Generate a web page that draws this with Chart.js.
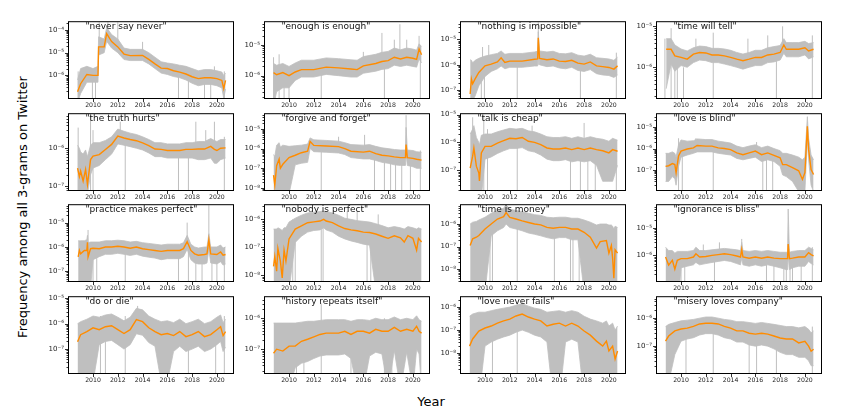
<!DOCTYPE html>
<html><head><meta charset="utf-8">
<script src="https://cdn.jsdelivr.net/npm/chart.js@4"></script>
<style>
html,body{margin:0;padding:0;background:#fff;}
#fig{position:relative;width:864px;height:414px;overflow:hidden;background:#fff;}
#fig canvas{position:absolute;}
.lab{position:absolute;font-family:"DejaVu Sans";font-size:13px;color:#000;white-space:nowrap;line-height:1;}
</style></head><body>
<div id="fig">
<div class="lab" style="left:431px;top:401px;transform:translate(-50%,-50%)">Year</div>
<div class="lab" style="left:22px;top:207px;transform:translate(-50%,-50%) rotate(-90deg)">Frequency among all 3-grams on Twitter</div>
</div>
<script>
// ---------------- DATA ----------------
const titles = ['"never say never"','"enough is enough"','"nothing is impossible"','"time will tell"',
 '"the truth hurts"','"forgive and forget"','"talk is cheap"','"love is blind"',
 '"practice makes perfect"','"nobody is perfect"','"time is money"','"ignorance is bliss"',
 '"do or die"','"history repeats itself"','"love never fails"','"misery loves company"'];
const xTickYears = [2010, 2012, 2014, 2016, 2018, 2020];
const yMins = [1.01e-7, 1.86e-7, 5e-8, 1.78e-7, 7.9e-8, 7.9e-9, 1.95e-8, 1.2e-8, 4e-8, 6.3e-9, 3e-9, 1.15e-7, 1.15e-8, 1.7e-8, 1.35e-9, 1.1e-8];
const yMaxs = [2.2e-4, 5.6e-5, 4.7e-5, 1.26e-5, 7.9e-6, 5.6e-5, 1.03e-5, 3.9e-5, 5.2e-5, 3.2e-6, 6.8e-6, 6.9e-5, 1.1e-5, 4.8e-6, 2.7e-6, 5.6e-6];

// 1 never say never
const years1 = [2008.75, 2009.0, 2009.5, 2010.0, 2010.4, 2010.45, 2010.9, 2011.1, 2011.5, 2012.0, 2012.5, 2013.0, 2014.0, 2014.5, 2015.0, 2015.5, 2016.0, 2016.5, 2017.0, 2017.5, 2018.0, 2018.5, 2019.0, 2019.5, 2020.0, 2020.4, 2020.55, 2020.7];
const smooth1 = [1.9e-7, 4.3e-7, 1.1e-6, 1e-6, 1e-6, 1.8e-5, 1.8e-5, 6.9e-5, 3.1e-5, 1.8e-5, 8.7e-6, 7.4e-6, 7.6e-6, 5.1e-6, 3.2e-6, 2.1e-6, 2e-6, 1.6e-6, 1.4e-6, 1.15e-6, 8.7e-7, 7.2e-7, 7.9e-7, 7.9e-7, 7.2e-7, 6e-7, 2.6e-7, 6e-7];
const upper1 = [6.3e-7, 2e-6, 2.5e-6, 2e-6, 2.5e-6, 5e-5, 4e-5, 1.26e-4, 6.3e-5, 4e-5, 1.6e-5, 1.4e-5, 1.4e-5, 1e-5, 6.3e-6, 4e-6, 3.5e-6, 3.2e-6, 2.8e-6, 2.5e-6, 2e-6, 1.6e-6, 1.8e-6, 1.8e-6, 1.6e-6, 1.4e-6, 1e-6, 1.26e-6];
const lower1 = [6.3e-8, 1.6e-7, 5e-7, 5e-7, 5e-7, 7.9e-6, 1e-5, 3.2e-5, 1.6e-5, 1e-5, 5e-6, 4.5e-6, 4.5e-6, 3.2e-6, 2e-6, 1.26e-6, 1.1e-6, 8.9e-7, 7.9e-7, 6.3e-7, 4.5e-7, 3.5e-7, 4e-7, 4e-7, 3.5e-7, 2.8e-7, 1e-7, 2.5e-7];
const spikes1 = [[2008.8,1e-9,1.5e-6],[2009.95,1e-9,1e-6],[2010.2,1e-9,1e-6],[2010.5,1e-5,1e-3],[2011.2,3e-5,1e-3],[2012.0,2e-5,1e-3],[2014.0,7e-6,3e-5],[2016.9,1e-9,1.5e-6],[2017.7,1e-9,1.2e-6],[2019.0,1e-9,8e-7],[2019.5,1e-9,8e-7],[2019.8,7e-7,2.5e-6],[2020.6,1e-9,1.5e-6]];

// 2 enough is enough
const years2 = [2008.75, 2009, 2009.5, 2010, 2010.5, 2011, 2012, 2013, 2014, 2015, 2015.5, 2016, 2017, 2017.5, 2018, 2018.5, 2019, 2019.5, 2020, 2020.3, 2020.5, 2020.7];
const smooth2 = [1.26e-6, 1.07e-6, 1.26e-6, 1e-6, 1.32e-6, 1.58e-6, 1.58e-6, 1.9e-6, 1.8e-6, 1.66e-6, 1.58e-6, 2.1e-6, 2.5e-6, 2.9e-6, 3.1e-6, 4e-6, 3.5e-6, 4e-6, 3.7e-6, 3.4e-6, 7.4e-6, 4.8e-6];
const upper2 = [2.5e-6, 2.2e-6, 2.5e-6, 2e-6, 2.6e-6, 3.2e-6, 3.2e-6, 3.8e-6, 3.6e-6, 3.3e-6, 3.2e-6, 4.2e-6, 5e-6, 5.8e-6, 6.2e-6, 8e-6, 7e-6, 8e-6, 7.4e-6, 6.8e-6, 1.1e-5, 9e-6];
const lower2 = [1e-7, 3e-7, 4e-7, 4e-7, 7e-7, 9e-7, 9e-7, 1.1e-6, 1e-6, 9e-7, 9e-7, 1.2e-6, 1.4e-6, 1.6e-6, 1.7e-6, 2.2e-6, 2e-6, 2.2e-6, 2e-6, 1.9e-6, 3.5e-6, 2.6e-6];
const spikes2 = [[2008.75,1e-9,4e-6],[2009.2,1e-9,5e-6],[2009.6,1e-9,2e-6],[2010.0,1e-9,1.5e-6],[2012.6,1e-9,2e-6],[2016.0,1.5e-6,6e-6],[2017.5,3e-6,2.5e-5],[2017.7,1e-9,3e-6],[2018.5,3e-6,1.5e-5],[2018.95,4e-6,4.8e-5],[2019.5,4e-6,1.5e-5],[2020.5,5e-6,2e-5],[2020.6,1e-9,8e-6]];

// 3 nothing is impossible
const years3 = [2008.8, 2008.9, 2009.0, 2009.2, 2009.5, 2010, 2010.5, 2011, 2011.3, 2011.6, 2012, 2013, 2014, 2014.25, 2014.3, 2014.4, 2015, 2015.5, 2016, 2016.5, 2017, 2017.5, 2018, 2018.5, 2019, 2019.5, 2020, 2020.4, 2020.7];
const smooth3 = [7.2e-8, 2.8e-7, 1.8e-7, 2.8e-7, 5e-7, 9.1e-7, 1.07e-6, 1.3e-6, 1.9e-6, 1.23e-6, 1.4e-6, 1.4e-6, 1.66e-6, 1.7e-6, 1.15e-5, 1.8e-6, 1.58e-6, 1.7e-6, 1.4e-6, 1.35e-6, 1.5e-6, 1.17e-6, 1.07e-6, 1.3e-6, 9.1e-7, 8.5e-7, 7.9e-7, 6.8e-7, 9.1e-7];
const upper3 = [1.6e-6, 1.5e-6, 1.2e-6, 1.5e-6, 1.8e-6, 2.2e-6, 2.5e-6, 2.8e-6, 3.5e-6, 2.6e-6, 2.8e-6, 2.8e-6, 3.2e-6, 3.4e-6, 2e-5, 3.5e-6, 3.2e-6, 3.4e-6, 2.8e-6, 2.7e-6, 3e-6, 2.4e-6, 2.2e-6, 2.6e-6, 1.9e-6, 1.8e-6, 1.7e-6, 1.5e-6, 2e-6];
const lower3 = [4e-8, 4e-8, 4e-8, 6e-8, 1.5e-7, 3.5e-7, 5.5e-7, 7e-7, 9e-7, 7e-7, 8e-7, 8e-7, 9e-7, 9e-7, 5e-6, 1e-6, 8.5e-7, 9e-7, 7.5e-7, 7e-7, 8e-7, 6e-7, 5.5e-7, 6.5e-7, 4.5e-7, 4e-7, 3.8e-7, 3.2e-7, 4e-7];
const spikes3 = [[2009.7,1e-9,2e-6],[2009.95,1e-9,1.5e-6],[2009.8,5e-7,5e-6],[2010.3,1e-6,6e-6],[2012.6,1e-9,2e-6],[2014.3,1e-6,5e-5],[2017.7,1e-9,2e-6],[2020.6,1e-9,3e-6]];

// 4 time will tell
const years4 = [2008.8, 2009.2, 2009.5, 2010, 2010.5, 2011, 2011.5, 2012, 2012.5, 2013, 2013.5, 2014, 2014.5, 2015, 2015.5, 2016, 2016.5, 2017, 2017.5, 2018, 2018.3, 2018.5, 2019, 2019.5, 2020, 2020.3, 2020.7];
const smooth4 = [2.75e-6, 2.75e-6, 1.9e-6, 1.74e-6, 1.58e-6, 2.1e-6, 2.3e-6, 2.24e-6, 2e-6, 2e-6, 1.9e-6, 1.74e-6, 1.58e-6, 1.45e-6, 1.58e-6, 1.74e-6, 1.74e-6, 2e-6, 2.1e-6, 2.3e-6, 3.5e-6, 2.75e-6, 2.75e-6, 2.75e-6, 3e-6, 2.5e-6, 2.75e-6];
const upper4 = [5e-6, 5e-6, 3.5e-6, 2.8e-6, 2.5e-6, 3e-6, 3.3e-6, 3.2e-6, 2.9e-6, 2.9e-6, 2.8e-6, 2.6e-6, 2.3e-6, 2.1e-6, 2.3e-6, 2.6e-6, 2.6e-6, 3e-6, 3.2e-6, 3.4e-6, 5e-6, 4e-6, 4e-6, 4e-6, 4.3e-6, 3.8e-6, 4e-6];
const lower4 = [3e-7, 1.2e-6, 8e-7, 1.1e-6, 1e-6, 1.3e-6, 1.5e-6, 1.45e-6, 1.3e-6, 1.3e-6, 1.2e-6, 1.1e-6, 1e-6, 9e-7, 1e-6, 1.1e-6, 1.1e-6, 1.3e-6, 1.35e-6, 1.5e-6, 2.2e-6, 1.8e-6, 1.8e-6, 1.8e-6, 2e-6, 1.6e-6, 1.8e-6];
const spikes4 = [[2008.7,1e-9,5e-6],[2009.2,1e-9,9e-6],[2009.5,1e-9,1e-6],[2009.7,1e-9,1e-6],[2010.2,1e-9,1e-6],[2011.2,1.5e-6,5e-6],[2012.6,1e-9,7e-6],[2015.4,1.5e-6,5e-6],[2017.0,1.5e-6,6e-6],[2017.7,1e-9,2e-6],[2018.2,2e-6,1e-5],[2020.6,1e-9,6e-6]];

// 5 the truth hurts
const years5 = [2008.75, 2008.9, 2009.0, 2009.2, 2009.4, 2009.55, 2009.8, 2010, 2010.5, 2011, 2011.5, 2012, 2012.5, 2013, 2013.5, 2014, 2014.5, 2015, 2015.5, 2016, 2017, 2017.5, 2018, 2018.5, 2019, 2019.5, 2019.8, 2020, 2020.3, 2020.7];
const smooth5 = [3e-7, 1.8e-7, 2.5e-7, 1.35e-7, 2.75e-7, 1.1e-7, 5e-7, 6.2e-7, 6.8e-7, 9.3e-7, 1.26e-6, 2.1e-6, 1.86e-6, 1.7e-6, 1.58e-6, 1.38e-6, 1.17e-6, 9.5e-7, 9.3e-7, 8.7e-7, 8.7e-7, 9.3e-7, 9.3e-7, 9.5e-7, 9.5e-7, 1.12e-6, 9.3e-7, 8.7e-7, 1e-6, 1.02e-6];
const upper5 = [1.2e-6, 1e-6, 8e-7, 7e-7, 9e-7, 6e-7, 1.2e-6, 1.4e-6, 1.4e-6, 1.6e-6, 2e-6, 3.2e-6, 2.8e-6, 2.5e-6, 2.3e-6, 2e-6, 1.7e-6, 1.4e-6, 1.4e-6, 1.3e-6, 1.3e-6, 1.4e-6, 1.4e-6, 1.5e-6, 1.5e-6, 1.8e-6, 1.6e-6, 1.5e-6, 1.7e-6, 1.7e-6];
const lower5 = [7e-8, 6e-8, 6e-8, 6e-8, 7e-8, 6e-8, 2e-7, 3e-7, 3.5e-7, 5e-7, 7e-7, 1.3e-6, 1.2e-6, 1.1e-6, 1e-6, 9e-7, 7.5e-7, 6e-7, 6e-7, 5.5e-7, 5.5e-7, 5.5e-7, 5.5e-7, 5e-7, 5e-7, 5.5e-7, 4e-7, 4e-7, 5e-7, 5.5e-7];
const spikes5 = [[2008.8,1e-9,3.5e-6],[2009.8,1e-9,1e-5],[2010.0,1e-9,3e-6],[2012.2,2e-6,5e-6],[2012.6,1e-9,2e-6],[2016.9,1e-9,1.2e-6],[2017.7,1e-9,1.2e-6],[2018.3,8e-7,5e-6],[2019.1,7e-7,3e-6],[2019.8,6e-7,5e-6],[2020.6,1e-9,2e-6]];

// 6 forgive and forget
const years6 = [2008.75, 2008.85, 2009.0, 2009.2, 2009.3, 2009.5, 2010, 2010.5, 2011, 2011.5, 2011.7, 2012, 2013, 2014, 2014.5, 2015, 2016, 2016.5, 2017, 2017.5, 2018, 2018.5, 2019, 2019.4, 2019.45, 2019.55, 2020, 2020.3, 2020.7];
const smooth6 = [4.5e-8, 1.4e-8, 1.35e-7, 2.9e-7, 1e-7, 1.6e-7, 3.5e-7, 4.6e-7, 6.2e-7, 7.4e-7, 2.3e-6, 1.45e-6, 1.35e-6, 1.26e-6, 1e-6, 7.4e-7, 6.6e-7, 7.4e-7, 5.6e-7, 4.6e-7, 4.3e-7, 3.8e-7, 3.5e-7, 3.5e-7, 1.6e-6, 3.5e-7, 3.2e-7, 2.9e-7, 2.6e-7];
const upper6 = [5e-7, 4e-7, 1.5e-6, 2e-6, 1.2e-6, 1.5e-6, 1.3e-6, 1.4e-6, 1.5e-6, 1.7e-6, 3.5e-6, 2.8e-6, 2.6e-6, 2.4e-6, 2e-6, 1.6e-6, 1.5e-6, 1.6e-6, 1.3e-6, 1.1e-6, 1e-6, 9e-7, 8.5e-7, 8.5e-7, 1.2e-5, 8.5e-7, 8e-7, 7e-7, 6.5e-7];
const lower6 = [5e-9, 5e-9, 5e-9, 5e-9, 5e-9, 5e-9, 5e-9, 1.5e-7, 1.8e-7, 2e-7, 1e-6, 7e-7, 6.5e-7, 6e-7, 5e-7, 3.5e-7, 3e-7, 3e-7, 2.5e-7, 2e-7, 1.8e-7, 1.5e-7, 1.4e-7, 1.4e-7, 6e-7, 1.4e-7, 1.2e-7, 1e-7, 1e-7];
const spikes6 = [[2012.6,1e-9,2e-6],[2014.0,8e-7,4e-6],[2016.1,5e-7,5e-6],[2016.9,1e-9,1e-6],[2017.7,1e-9,8e-7],[2018.2,1e-9,7e-7],[2018.6,1e-9,6e-7],[2019.1,1e-9,6e-7],[2019.45,3e-7,5e-5],[2019.8,1e-9,6e-7],[2020.6,1e-9,8e-7]];

// 7 talk is cheap
const years7 = [2008.8, 2009.0, 2009.1, 2009.3, 2009.5, 2009.55, 2009.7, 2010, 2010.5, 2011, 2011.5, 2012, 2012.5, 2013, 2013.5, 2014, 2014.5, 2015, 2015.5, 2016, 2016.5, 2017, 2017.5, 2018, 2018.5, 2019, 2019.5, 2020, 2020.3, 2020.7];
const smooth7 = [1.2e-7, 3.2e-7, 6.3e-7, 1.4e-7, 7.9e-8, 4.1e-8, 4.2e-7, 7.2e-7, 7.2e-7, 9.5e-7, 1.15e-6, 1.4e-6, 1.35e-6, 1.5e-6, 1.1e-6, 1e-6, 8.3e-7, 6.3e-7, 5.8e-7, 5.8e-7, 6.3e-7, 5.5e-7, 6.3e-7, 5.5e-7, 6.3e-7, 5.5e-7, 5e-7, 4.2e-7, 5.5e-7, 4.8e-7];
const upper7 = [2e-6, 3e-6, 4e-6, 1.5e-6, 1e-6, 8e-7, 1.8e-6, 2e-6, 2e-6, 2.4e-6, 2.8e-6, 3.2e-6, 3e-6, 3.2e-6, 2.6e-6, 2.4e-6, 2e-6, 1.6e-6, 1.5e-6, 1.5e-6, 1.6e-6, 1.4e-6, 1.6e-6, 1.4e-6, 1.6e-6, 1.4e-6, 1.3e-6, 1.1e-6, 1.4e-6, 1.2e-6];
const lower7 = [1e-8, 1e-8, 1e-8, 1e-8, 1e-8, 1e-8, 1e-8, 2.5e-7, 3e-7, 4e-7, 5e-7, 6e-7, 6e-7, 6.5e-7, 5e-7, 4.5e-7, 3.5e-7, 2.5e-7, 2.2e-7, 2.2e-7, 2.4e-7, 2e-7, 2.2e-7, 2e-7, 2.2e-7, 1.5e-7, 4e-8, 4e-8, 4e-8, 1.5e-7];
const spikes7 = [[2009.0,1e-8,8e-6],[2009.9,1e-9,1e-5],[2010.2,1e-9,3e-6],[2012.6,1e-9,1.5e-6],[2013.8,8e-7,4e-6],[2016.9,1e-9,7e-7],[2017.7,1e-9,7e-7],[2018.0,6e-7,5e-6],[2018.3,1e-9,6e-7],[2018.9,1e-9,6e-7],[2020.6,1e-9,1e-6]];

// 8 love is blind
const years8 = [2008.75, 2009.0, 2009.3, 2009.5, 2009.6, 2009.8, 2010, 2010.5, 2011, 2011.3, 2012, 2012.5, 2013, 2013.5, 2014, 2014.5, 2015, 2015.5, 2016, 2016.5, 2017, 2017.5, 2018, 2018.2, 2018.5, 2019, 2019.5, 2019.8, 2020.0, 2020.2, 2020.3, 2020.5, 2020.7];
const smooth8 = [1.5e-7, 1.6e-7, 2e-7, 1.8e-7, 7.6e-8, 4.5e-7, 7.6e-7, 9.5e-7, 1.07e-6, 1.38e-6, 1.3e-6, 1.3e-6, 1.07e-6, 1e-6, 8.9e-7, 6.3e-7, 5.2e-7, 6.3e-7, 7.6e-7, 5.2e-7, 6.3e-7, 4.8e-7, 3.7e-7, 1.8e-7, 1.8e-7, 1.3e-7, 9.3e-8, 3.7e-8, 7.6e-8, 1.07e-5, 8.9e-7, 1.07e-7, 6.3e-8];
const upper8 = [6e-7, 6e-7, 7e-7, 6e-7, 4e-7, 1.5e-6, 2.5e-6, 2.2e-6, 2.3e-6, 2.8e-6, 2.6e-6, 2.6e-6, 2.2e-6, 2e-6, 1.8e-6, 1.3e-6, 1.1e-6, 1.3e-6, 1.5e-6, 1.1e-6, 1.3e-6, 1e-6, 8e-7, 6e-7, 6e-7, 5e-7, 4e-7, 3e-7, 4e-7, 3e-5, 3e-6, 5e-7, 3e-7];
const lower8 = [3e-8, 3e-8, 5e-8, 4e-8, 2e-8, 1.5e-7, 4e-7, 5e-7, 6e-7, 7e-7, 7e-7, 7e-7, 6e-7, 5.5e-7, 5e-7, 3.5e-7, 3e-7, 3.5e-7, 4e-7, 2.5e-7, 3e-7, 2.5e-7, 1.5e-7, 6e-8, 5e-8, 3e-8, 1e-8, 1e-8, 1e-8, 3e-6, 3e-7, 2e-8, 1e-8];
const spikes8 = [[2009.8,1e-9,3e-6],[2010.1,1e-9,8e-7],[2011.2,1e-6,3e-6],[2012.6,1e-9,1.5e-6],[2016.1,5e-7,2e-6],[2016.6,1e-9,1e-6],[2016.9,1e-9,1e-6],[2017.4,1e-9,1e-6]];

// 9 practice makes perfect
const years9 = [2008.8, 2008.9, 2009.0, 2009.3, 2009.5, 2009.55, 2009.6, 2009.8, 2010, 2010.5, 2011, 2011.5, 2012, 2012.5, 2013, 2013.5, 2014, 2014.5, 2015, 2015.5, 2016, 2016.5, 2017, 2017.3, 2017.6, 2017.9, 2018.2, 2018.5, 2019, 2019.2, 2019.35, 2019.5, 2020, 2020.3, 2020.5, 2020.7];
const smooth9 = [3.9e-7, 7.2e-7, 5.2e-7, 7.2e-7, 7.2e-7, 1.55e-6, 3.9e-7, 8.5e-7, 8.9e-7, 8.5e-7, 1e-6, 1e-6, 1.07e-6, 1e-6, 8.9e-7, 1e-6, 8.5e-7, 7.8e-7, 7.2e-7, 6.6e-7, 7.2e-7, 7.2e-7, 7.2e-7, 8.5e-7, 1.66e-6, 7.2e-7, 5.2e-7, 4.6e-7, 4.9e-7, 5.2e-7, 1.95e-6, 5.2e-7, 4.9e-7, 6.2e-7, 4.6e-7, 4.9e-7];
const upper9 = [1.8e-6, 1.8e-6, 1.8e-6, 1.8e-6, 2e-6, 3e-6, 1.5e-6, 1.6e-6, 1.6e-6, 1.6e-6, 1.8e-6, 1.8e-6, 1.9e-6, 1.8e-6, 1.6e-6, 1.7e-6, 1.5e-6, 1.4e-6, 1.3e-6, 1.2e-6, 1.3e-6, 1.3e-6, 1.3e-6, 1.5e-6, 3e-6, 1.3e-6, 1e-6, 9e-7, 1e-6, 1e-6, 3.5e-6, 1e-6, 1e-6, 1.2e-6, 9e-7, 1e-6];
const lower9 = [2e-8, 2e-8, 2e-8, 2e-8, 2e-8, 2e-8, 2e-8, 2e-8, 3e-7, 4e-7, 5e-7, 5e-7, 5.5e-7, 5e-7, 4.5e-7, 5e-7, 4.2e-7, 3.8e-7, 3.5e-7, 3e-7, 3.3e-7, 3.3e-7, 3.3e-7, 4e-7, 8e-7, 3e-7, 2.2e-7, 2e-7, 2e-7, 2.2e-7, 8e-7, 2.2e-7, 2e-7, 2.5e-7, 1.8e-7, 2e-7];
const spikes9 = [[2009.6,5e-7,5e-6],[2010.0,1e-9,1e-6],[2010.3,1e-9,1e-6],[2012.6,1e-9,1.5e-6],[2016.9,1e-9,8e-7],[2017.6,1e-6,1e-5],[2017.7,1e-9,8e-7],[2018.3,1e-9,6e-7],[2018.8,1e-9,7e-7],[2019.35,1e-6,6e-5],[2019.6,1e-9,6e-7],[2020.0,1e-9,6e-7],[2020.6,1e-9,1e-6]];

// 10 nobody is perfect
const years10 = [2008.75, 2008.85, 2009.0, 2009.1, 2009.3, 2009.45, 2009.6, 2009.75, 2010, 2010.5, 2011, 2011.5, 2012, 2012.5, 2012.8, 2013, 2013.5, 2014, 2014.5, 2015, 2015.5, 2016, 2016.5, 2017, 2017.5, 2018, 2018.5, 2019, 2019.3, 2019.6, 2020, 2020.3, 2020.45, 2020.7];
const smooth10 = [2.1e-8, 4.7e-8, 1.4e-8, 9.1e-8, 3.2e-8, 8.1e-9, 7.9e-8, 3.2e-8, 2e-7, 4.5e-7, 5.8e-7, 7.6e-7, 8.1e-7, 8.7e-7, 1e-6, 8.7e-7, 7.6e-7, 5.8e-7, 4.7e-7, 4.2e-7, 3.9e-7, 3.5e-7, 3.4e-7, 3e-7, 2.5e-7, 2.1e-7, 2.6e-7, 2.2e-7, 1.55e-7, 2.6e-7, 2.1e-7, 7.9e-8, 2.1e-7, 1.55e-7];
const upper10 = [4.5e-7, 4.5e-7, 4.5e-7, 5e-7, 4.5e-7, 4e-7, 5e-7, 5e-7, 8e-7, 1.1e-6, 1.4e-6, 1.7e-6, 1.8e-6, 1.9e-6, 2e-6, 1.9e-6, 1.7e-6, 1.4e-6, 1.1e-6, 1e-6, 9e-7, 8.5e-7, 8e-7, 7e-7, 6e-7, 5e-7, 5.5e-7, 5e-7, 4.5e-7, 5.5e-7, 5e-7, 4.5e-7, 5e-7, 4.5e-7];
const lower10 = [3e-9, 3e-9, 3e-9, 3e-9, 3e-9, 3e-9, 3e-9, 3e-9, 3e-9, 1.5e-7, 2.5e-7, 3.5e-7, 4e-7, 4.2e-7, 5e-7, 4.2e-7, 3.5e-7, 2.5e-7, 2e-7, 1.7e-7, 1.5e-7, 1.3e-7, 1.2e-7, 3e-9, 3e-9, 3e-9, 3e-9, 3e-9, 3e-9, 3e-9, 3e-9, 3e-9, 3e-9, 3e-9];
const spikes10 = [[2010.3,1e-9,1e-6],[2010.5,1e-9,1e-6],[2012.6,1e-9,2e-6],[2012.75,1e-9,2e-6],[2014.7,5e-7,2e-6],[2015.5,3e-7,2e-6],[2016.3,1e-9,8e-7],[2016.6,1e-9,8e-7],[2017.2,3e-7,1.5e-6]];

// 11 time is money
const years11 = [2008.8, 2009.0, 2009.3, 2009.5, 2010, 2010.5, 2011, 2011.5, 2011.7, 2012, 2012.5, 2013, 2013.5, 2014, 2014.5, 2015, 2015.5, 2016, 2016.5, 2017, 2017.5, 2018, 2018.5, 2019, 2019.3, 2019.8, 2020, 2020.2, 2020.3, 2020.4, 2020.5, 2020.7];
const smooth11 = [1.12e-7, 2.2e-7, 2.6e-7, 3.1e-7, 6e-7, 1e-6, 1.66e-6, 2.1e-6, 3.2e-6, 1.95e-6, 1.66e-6, 1.38e-6, 1.17e-6, 1e-6, 9.1e-7, 7.1e-7, 6.5e-7, 7.1e-7, 7.1e-7, 6e-7, 6e-7, 4.3e-7, 2.6e-7, 8.5e-8, 1.66e-7, 1.86e-7, 5.1e-8, 1.12e-7, 3.1e-8, 4e-9, 7.2e-8, 5.1e-8];
const upper11 = [1e-6, 1.2e-6, 1.3e-6, 1.5e-6, 2e-6, 3e-6, 4e-6, 5e-6, 7e-6, 4.5e-6, 4e-6, 3.5e-6, 3e-6, 2.6e-6, 2.4e-6, 2e-6, 1.9e-6, 2e-6, 2e-6, 1.8e-6, 1.8e-6, 1.5e-6, 1.2e-6, 9e-7, 1e-6, 1e-6, 9e-7, 9e-7, 8e-7, 6e-7, 8e-7, 7e-7];
const lower11 = [1e-9, 1e-9, 1e-9, 1e-9, 1e-9, 3e-7, 5e-7, 7e-7, 1e-6, 7e-7, 6e-7, 5e-7, 4e-7, 3.5e-7, 3e-7, 2.5e-7, 2.2e-7, 2.5e-7, 2.5e-7, 2e-7, 2e-7, 1e-9, 1e-9, 1e-9, 1e-9, 1e-9, 1e-9, 1e-9, 1e-9, 1e-9, 1e-9, 1e-9];
const spikes11 = [[2010.4,1e-9,1.5e-6],[2010.6,1e-9,2e-6],[2011.3,1e-6,5e-6],[2012.6,1e-9,3e-6],[2015.6,1e-9,1.5e-6],[2016.9,1e-9,1.5e-6],[2017.1,1e-9,1.5e-6],[2017.6,1e-9,1.5e-6]];

// 12 ignorance is bliss
const years12 = [2008.75, 2009.0, 2009.3, 2009.5, 2009.7, 2010, 2010.5, 2011, 2011.2, 2011.5, 2012, 2012.5, 2013, 2013.5, 2014, 2014.5, 2014.8, 2014.9, 2015, 2015.5, 2016, 2016.5, 2017, 2017.5, 2018, 2018.5, 2018.6, 2018.65, 2018.75, 2019, 2019.5, 2020, 2020.3, 2020.5, 2020.7];
const smooth12 = [8.7e-7, 4.4e-7, 6.6e-7, 3.1e-7, 6.6e-7, 7.6e-7, 7.6e-7, 8.7e-7, 1.15e-6, 8.7e-7, 9.1e-7, 1e-6, 1.07e-6, 1.15e-6, 1.07e-6, 9.5e-7, 8.7e-7, 1.66e-6, 8.7e-7, 7.9e-7, 8.7e-7, 7.9e-7, 8.7e-7, 7.9e-7, 7.6e-7, 7.6e-7, 7.6e-7, 2.6e-6, 7.6e-7, 7.9e-7, 8.7e-7, 8.7e-7, 1.26e-6, 1.07e-6, 9.5e-7];
const upper12 = [2e-6, 1.5e-6, 1.5e-6, 1.2e-6, 1.4e-6, 1.4e-6, 1.4e-6, 1.5e-6, 2e-6, 1.5e-6, 1.5e-6, 1.6e-6, 1.7e-6, 1.8e-6, 1.7e-6, 1.6e-6, 1.5e-6, 3e-6, 1.5e-6, 1.4e-6, 1.5e-6, 1.4e-6, 1.5e-6, 1.4e-6, 1.3e-6, 1.3e-6, 1.3e-6, 5e-5, 1.3e-6, 1.4e-6, 1.5e-6, 1.5e-6, 2e-6, 1.8e-6, 1.6e-6];
const lower12 = [1e-8, 1e-8, 1e-8, 1e-8, 1e-8, 3.5e-7, 4e-7, 4.5e-7, 5.5e-7, 4.5e-7, 5e-7, 5.5e-7, 6e-7, 6.5e-7, 6e-7, 5e-7, 4.5e-7, 8e-7, 4.5e-7, 4e-7, 4.5e-7, 4e-7, 4.5e-7, 4e-7, 3.5e-7, 3e-7, 3e-7, 1e-6, 3e-7, 3.5e-7, 4e-7, 4e-7, 6e-7, 5e-7, 4.5e-7];
const spikes12 = [[2010.0,1e-9,1e-6],[2010.3,1e-9,1e-6],[2011.8,8e-7,2.5e-6],[2012.7,1e-9,1.5e-6],[2013.1,8e-7,3e-6],[2014.9,8e-7,4e-6],[2016.9,1e-9,1e-6],[2017.5,1e-9,1e-6],[2018.3,1e-9,1e-6],[2018.5,1e-9,1e-6],[2018.8,1e-9,1e-6],[2019.0,1e-9,1e-6],[2019.7,1e-9,1e-6],[2020.6,1e-9,2e-6]];

// 13 do or die
const years13 = [2008.75, 2009, 2009.5, 2010, 2010.5, 2011, 2011.5, 2012, 2012.5, 2013, 2013.5, 2014, 2014.5, 2015, 2015.5, 2016, 2016.5, 2017, 2017.5, 2018, 2018.5, 2019, 2019.5, 2020, 2020.3, 2020.5, 2020.7];
const smooth13 = [1.95e-7, 3.7e-7, 4.9e-7, 6.9e-7, 5.8e-7, 7.6e-7, 8.3e-7, 5.8e-7, 4.1e-7, 5.8e-7, 1.45e-6, 1.2e-6, 6.9e-7, 4.9e-7, 3.7e-7, 4.1e-7, 3.4e-7, 4.9e-7, 3.1e-7, 3.7e-7, 4.9e-7, 3.1e-7, 3.7e-7, 5.8e-7, 7.6e-7, 3.4e-7, 4.9e-7];
const upper13 = [1e-6, 1.2e-6, 1.5e-6, 2e-6, 1.8e-6, 2.2e-6, 2.4e-6, 1.8e-6, 1.3e-6, 1.8e-6, 4e-6, 3.5e-6, 2e-6, 1.5e-6, 1.2e-6, 1.3e-6, 1.1e-6, 1.5e-6, 1e-6, 1.2e-6, 1.5e-6, 1e-6, 1.2e-6, 1.8e-6, 2.2e-6, 1.1e-6, 1.5e-6];
const lower13 = [5e-9, 5e-9, 5e-9, 5e-9, 1.5e-7, 2e-7, 2.2e-7, 1.5e-7, 1e-7, 1.5e-7, 4e-7, 3.5e-7, 1.8e-7, 1.3e-7, 5e-9, 5e-9, 8e-8, 1.3e-7, 8e-8, 1e-7, 1.3e-7, 8e-8, 1e-7, 1.5e-7, 2e-7, 8e-8, 1.2e-7];
const spikes13 = [[2010.6,1e-9,2e-6],[2011.0,1e-9,2e-6],[2012.6,1e-9,2e-6],[2013.6,1e-6,5e-6],[2017.7,1e-9,1e-6],[2019.9,1e-9,1.5e-6],[2020.6,1e-9,2e-6]];

// 14 history repeats itself
const years14 = [2008.75, 2009, 2009.5, 2010, 2010.5, 2011, 2011.5, 2012, 2012.5, 2013, 2014, 2014.5, 2015, 2015.5, 2016, 2016.5, 2017, 2017.5, 2018, 2018.5, 2019, 2019.5, 2020, 2020.3, 2020.5, 2020.7];
const smooth14 = [7.4e-8, 1e-7, 8.7e-8, 1.26e-7, 1.26e-7, 1.8e-7, 2.1e-7, 2.5e-7, 3e-7, 3.3e-7, 3.3e-7, 3.8e-7, 3e-7, 3.8e-7, 3.8e-7, 3.3e-7, 4.4e-7, 3.8e-7, 3.8e-7, 5.1e-7, 3.8e-7, 4.4e-7, 3.8e-7, 5.5e-7, 3.8e-7, 3.3e-7];
const upper14 = [7e-7, 7e-7, 7e-7, 7e-7, 7e-7, 7.5e-7, 8e-7, 8e-7, 8.5e-7, 9e-7, 9e-7, 9e-7, 8e-7, 9e-7, 9e-7, 8.5e-7, 1e-6, 9e-7, 9e-7, 1.1e-6, 9e-7, 1e-6, 9e-7, 1.2e-6, 9e-7, 8e-7];
const lower14 = [5e-9, 5e-9, 5e-9, 5e-9, 2.5e-8, 3.5e-8, 4e-8, 5e-8, 6e-8, 6.5e-8, 6.5e-8, 7e-8, 5e-8, 5e-9, 5e-9, 6e-8, 8e-8, 7e-8, 5e-9, 9e-8, 5e-9, 8e-8, 5e-9, 1e-7, 7e-8, 5e-9];
const spikes14 = [[2010.6,1e-9,7e-7],[2011.2,1e-9,7e-7],[2012.6,1e-9,3e-6],[2015.0,1e-9,8e-7],[2017.7,1e-9,1e-6],[2018.3,1e-9,9e-7]];

// 15 love never fails
const years15 = [2008.75, 2009, 2009.5, 2010, 2010.5, 2011, 2011.5, 2012, 2012.5, 2013, 2013.5, 2014, 2014.5, 2015, 2015.5, 2016, 2016.5, 2017, 2017.5, 2018, 2018.5, 2019, 2019.5, 2019.8, 2020, 2020.3, 2020.5, 2020.7];
const smooth15 = [2e-8, 4.1e-8, 9.1e-8, 1.23e-7, 1.5e-7, 2e-7, 2.5e-7, 3e-7, 4.1e-7, 5e-7, 3.7e-7, 3e-7, 2.5e-7, 1.5e-7, 1.8e-7, 2e-7, 1.5e-7, 2e-7, 1.5e-7, 9.1e-8, 6e-8, 3.3e-8, 2e-8, 3.3e-8, 1.23e-8, 2e-8, 5.5e-9, 1.23e-8];
const upper15 = [4e-7, 5e-7, 6e-7, 6e-7, 7e-7, 8e-7, 9e-7, 1e-6, 1.2e-6, 1.4e-6, 1.1e-6, 9e-7, 8e-7, 6e-7, 6.5e-7, 7e-7, 6e-7, 7e-7, 6e-7, 4e-7, 3e-7, 2.5e-7, 2e-7, 2.5e-7, 1.5e-7, 2e-7, 1e-7, 1.5e-7];
const lower15 = [1e-10, 1e-10, 1e-10, 2e-8, 3e-8, 4e-8, 5e-8, 6e-8, 8e-8, 1e-7, 8e-8, 6e-8, 5e-8, 3e-8, 1e-10, 1e-10, 3e-8, 4e-8, 3e-8, 1e-10, 1e-10, 1e-10, 1e-10, 1e-10, 1e-10, 1e-10, 1e-10, 1e-10];
const spikes15 = [[2010.6,1e-10,6e-7],[2012.6,1e-10,1.5e-6],[2013.0,5e-7,2e-6]];

// 16 misery loves company
const years16 = [2008.75, 2009, 2009.5, 2010, 2010.5, 2011, 2011.5, 2012, 2012.5, 2013, 2013.5, 2014, 2014.5, 2015, 2015.5, 2016, 2016.5, 2017, 2017.5, 2018, 2018.5, 2019, 2019.5, 2020, 2020.3, 2020.5, 2020.7];
const smooth16 = [1.5e-7, 2.3e-7, 3.5e-7, 4.1e-7, 4.4e-7, 5.1e-7, 6.2e-7, 6.6e-7, 6.6e-7, 6.2e-7, 5.1e-7, 4.4e-7, 3.5e-7, 3.5e-7, 2.9e-7, 2.7e-7, 2.9e-7, 2.7e-7, 2.3e-7, 1.95e-7, 1.8e-7, 1.8e-7, 1.3e-7, 1.5e-7, 1e-7, 6.6e-8, 7.8e-8];
const upper16 = [5e-7, 6e-7, 7e-7, 8e-7, 8.5e-7, 9e-7, 1e-6, 1.1e-6, 1.1e-6, 1e-6, 9e-7, 8.5e-7, 7.5e-7, 7.5e-7, 7e-7, 6.5e-7, 7e-7, 6.5e-7, 6e-7, 5.5e-7, 5e-7, 5e-7, 4.5e-7, 5e-7, 4e-7, 3e-7, 3.5e-7];
const lower16 = [5e-9, 5e-9, 5e-8, 1.5e-7, 1.8e-7, 2e-7, 2.5e-7, 2.8e-7, 2.8e-7, 2.5e-7, 2e-7, 1.8e-7, 1.4e-7, 1.4e-7, 1.1e-7, 1e-7, 1.1e-7, 1e-7, 8e-8, 6e-8, 5e-8, 5e-8, 4e-8, 4e-8, 3e-8, 2e-8, 2e-8];
const spikes16 = [[2010.4,1e-9,7e-7],[2012.6,1e-9,1e-6],[2015.5,1e-9,6e-7],[2016.1,1e-9,6e-7],[2017.7,1e-9,5e-7],[2020.6,1e-9,5e-7]];

// ---------------- BUILD ----------------
const allYears = [years1,years2,years3,years4,years5,years6,years7,years8,years9,years10,years11,years12,years13,years14,years15,years16];
const allSmooth = [smooth1,smooth2,smooth3,smooth4,smooth5,smooth6,smooth7,smooth8,smooth9,smooth10,smooth11,smooth12,smooth13,smooth14,smooth15,smooth16];
const allUpper = [upper1,upper2,upper3,upper4,upper5,upper6,upper7,upper8,upper9,upper10,upper11,upper12,upper13,upper14,upper15,upper16];
const allLower = [lower1,lower2,lower3,lower4,lower5,lower6,lower7,lower8,lower9,lower10,lower11,lower12,lower13,lower14,lower15,lower16];
const allSpikes = [spikes1,spikes2,spikes3,spikes4,spikes5,spikes6,spikes7,spikes8,spikes9,spikes10,spikes11,spikes12,spikes13,spikes14,spikes15,spikes16];

const COL_LEFT = [69, 265, 461, 657], ROW_TOP = [21, 113, 204, 296];
const AX_W = 164, AX_H = 77, PAD_L = 45, PAD_T = 8, PAD_R = 8, PAD_B = 20;
const X_MIN = 2008.06, X_MAX = 2021.3;
const GRAY = '#bfbfbf', ORANGE = '#ff8c00', FONT = '"DejaVu Sans"';
const SUP = {'-':'\u207b','0':'\u2070','1':'\u00b9','2':'\u00b2','3':'\u00b3','4':'\u2074','5':'\u2075','6':'\u2076','7':'\u2077','8':'\u2078','9':'\u2079'};
function sciLabel(v){ const e = Math.round(Math.log10(v)); return '10' + String(e).split('').map(c => SUP[c]).join(''); }

const framePlugin = {
  id: 'frame',
  afterDraw(chart) {
    const ctx = chart.ctx, a = chart.chartArea, ys = chart.scales.y, xs = chart.scales.x;
    ctx.save();
    ctx.strokeStyle = '#000'; ctx.lineWidth = 1;
    ctx.strokeRect(a.left - 0.5, a.top - 0.5, a.right - a.left + 1, a.bottom - a.top + 1);
    const lo = Math.floor(Math.log10(ys.min)), hi = Math.ceil(Math.log10(ys.max));
    ctx.beginPath();
    for (let e = lo; e <= hi; e++) {
      for (let k = 1; k <= 9; k++) {
        const v = k * Math.pow(10, e);
        if (v < ys.min || v > ys.max) continue;
        const py = Math.round(ys.getPixelForValue(v)) + 0.5;
        const len = k === 1 ? 3.5 : 2;
        ctx.moveTo(a.left - 0.5, py); ctx.lineTo(a.left - 0.5 - len, py);
      }
    }
    xTickYears.forEach(v => {
      const px = Math.round(xs.getPixelForValue(v)) + 0.5;
      ctx.moveTo(px, a.bottom + 0.5); ctx.lineTo(px, a.bottom + 4);
    });
    ctx.lineWidth = 0.8; ctx.stroke();
    ctx.fillStyle = '#111';
    ctx.font = '9px ' + FONT;
    ctx.textAlign = 'left'; ctx.textBaseline = 'alphabetic';
    ctx.fillText(chart.options.plugins.frame.title, a.left + 0.1 * (a.right - a.left), a.top + 7);
    ctx.restore();
  }
};

const fig = document.getElementById('fig');
for (let i = 0; i < 16; i++) {
  const r = Math.floor(i / 4), c = i % 4;
  const cv = document.createElement('canvas');
  const W = PAD_L + AX_W + PAD_R, H = PAD_T + AX_H + PAD_B;
  cv.width = W; cv.height = H;
  cv.style.width = W + 'px'; cv.style.height = H + 'px';
  cv.style.left = (COL_LEFT[c] - PAD_L) + 'px';
  cv.style.top = (ROW_TOP[r] - PAD_T) + 'px';
  fig.appendChild(cv);

  const yrs = allYears[i];
  const spikePts = [];
  allSpikes[i].forEach(s => { spikePts.push({x: s[0], y: s[1]}, {x: s[0], y: s[2]}, {x: s[0], y: null}); });

  new Chart(cv, {
    type: 'line',
    data: { datasets: [
      { data: yrs.map((x, k) => ({x, y: allSmooth[i][k]})), borderColor: ORANGE, borderWidth: 1.4, pointRadius: 0, fill: false, order: 0, tension: 0 },
      { data: yrs.map((x, k) => ({x, y: allUpper[i][k]})), borderColor: GRAY, backgroundColor: GRAY, borderWidth: 0.8, pointRadius: 0, fill: '+1', order: 1 },
      { data: yrs.map((x, k) => ({x, y: allLower[i][k]})), borderColor: GRAY, borderWidth: 0.8, pointRadius: 0, fill: false, order: 2 },
      { data: spikePts, borderColor: GRAY, borderWidth: 1, pointRadius: 0, fill: false, spanGaps: false, order: 3 }
    ]},
    options: {
      responsive: false, animation: false, devicePixelRatio: 1,
      layout: { padding: { top: PAD_T, right: PAD_R, left: 0, bottom: 0 } },
      plugins: { legend: { display: false }, tooltip: { enabled: false }, frame: { title: titles[i] } },
      scales: {
        x: {
          type: 'linear', min: X_MIN, max: X_MAX, bounds: 'data',
          grid: { display: false, drawTicks: false, tickLength: 0 }, border: { display: false },
          afterBuildTicks: s => { s.ticks = xTickYears.map(v => ({value: v})); },
          afterFit: s => { s.height = PAD_B; },
          ticks: { callback: v => String(v), font: { family: FONT, size: 6.2 }, color: '#222', padding: 4, maxRotation: 0, autoSkip: false }
        },
        y: {
          type: 'logarithmic', min: yMins[i], max: yMaxs[i], bounds: 'data',
          grid: { display: false, drawTicks: false, tickLength: 0 }, border: { display: false },
          afterBuildTicks: s => {
            const t = [];
            for (let e = Math.ceil(Math.log10(s.min) - 1e-9); e <= Math.floor(Math.log10(s.max) + 1e-9); e++) t.push({value: Math.pow(10, e)});
            s.ticks = t;
          },
          afterFit: s => { s.width = PAD_L; },
          ticks: { callback: v => sciLabel(v), font: { family: FONT, size: 7 }, color: '#222', padding: 5, autoSkip: false }
        }
      }
    },
    plugins: [framePlugin]
  });
}
</script>
</body></html>
